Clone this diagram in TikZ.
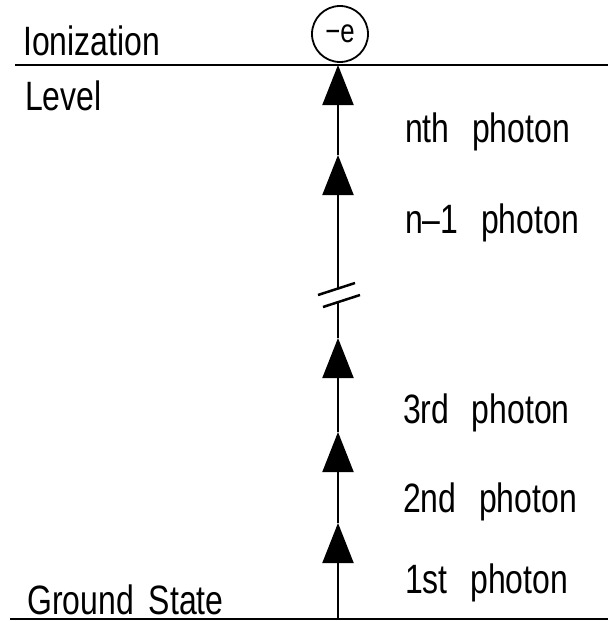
\documentclass[tikz,border=0pt]{standalone}
\usepackage{fontspec}
\setmainfont[FakeStretch=0.78]{Liberation Sans}
\usetikzlibrary{arrows.meta}
\newcommand\wgap{\hspace{0.55em}}
\begin{document}
\begin{tikzpicture}[x=1pt,y=-1pt,
  lbl/.style={anchor=base west, inner sep=0pt, font=\fontsize{41}{41}\selectfont},
  levelline/.style={line width=2pt},
  photon/.style={line width=2pt, -{Triangle[width=31pt,length=40pt]}},
  stem/.style={line width=2pt},
  brk/.style={line width=2.5pt}]
\useasboundingbox (0,0) rectangle (608,621);
% levels
\coordinate (ionL) at (15,65);
\coordinate (ionR) at (608,65);
\coordinate (gsL) at (10,619);
\coordinate (gsR) at (608,619);
\draw[levelline] (ionL) -- (ionR);
\draw[levelline] (gsL) -- (gsR);
% photon ladder
\coordinate (g) at (338,619);
\coordinate (p1) at (338,523);
\coordinate (p2) at (338,432);
\coordinate (p3) at (338,338);
\coordinate (bl) at (338,302);
\coordinate (bu) at (338,289);
\coordinate (p4) at (338,155);
\coordinate (p5) at (338,65);
\draw[photon] (g) -- (p1);
\draw[photon] (p1) -- (p2);
\draw[photon] (p2) -- (p3);
\draw[stem] (p3) -- (bl);
\draw[photon] (bu) -- (p4);
\draw[photon] (p4) -- (p5);
% break mark
\draw[brk] (318,295) -- (355,283);
\draw[brk] (323,307) -- (360,295);
% electron
\node[draw, circle, line width=1.8pt, minimum size=56pt, inner sep=0pt,
      font=\fontsize{33}{33}\selectfont] (el) at (340,34) {−e};
% labels
\node[lbl] (ion) at (23,55) {Ionization};
\node[lbl] (lev) at (25,110) {Level};
\node[lbl, text depth=0pt] (gs) at (27,614) {Ground\hspace{0.15em} State};
\node[lbl] (nth) at (405,142) {nth\wgap photon};
\node[lbl] (n1) at (405,233) {n–1\wgap photon};
\node[lbl] (r3) at (403,423) {3rd\wgap photon};
\node[lbl] (r2) at (403,512) {2nd\wgap photon};
\node[lbl] (r1) at (405,593) {1st\wgap photon};
\end{tikzpicture}
\end{document}
